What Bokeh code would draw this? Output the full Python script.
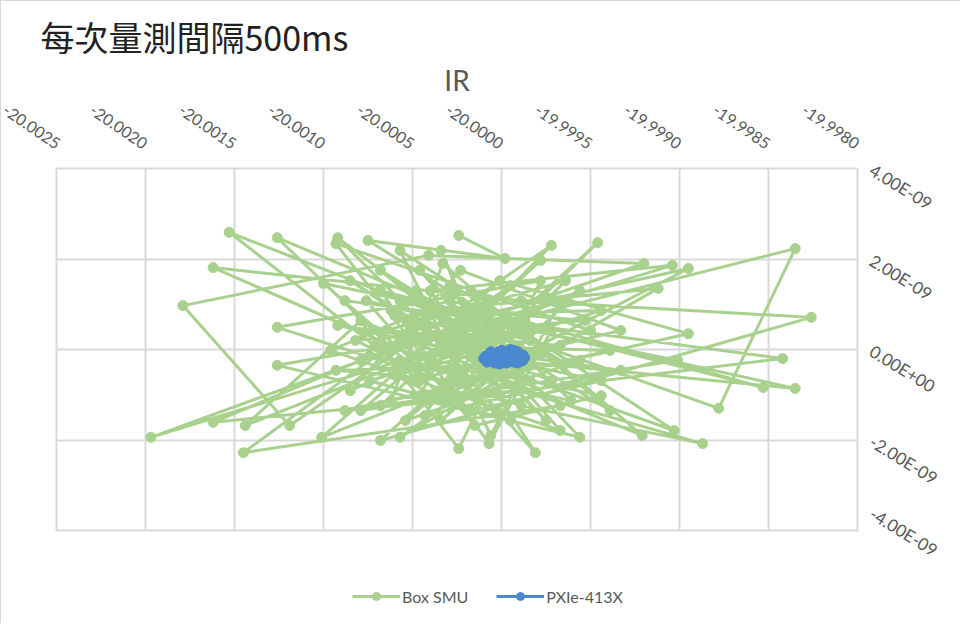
import numpy as np
from bokeh.plotting import figure
from bokeh.layouts import column
from bokeh.models import (Range1d, FixedTicker, CustomJSTickFormatter, Legend,
                          LegendItem, Title)
from bokeh.embed import file_html
from bokeh.resources import INLINE

# ---------------- data ----------------
x_tick_values = [-20.0025, -20.0020, -20.0015, -20.0010, -20.0005,
                 -20.0000, -19.9995, -19.9990, -19.9985, -19.9980]
x_tick_labels = ["-20.0025", "-20.0020", "-20.0015", "-20.0010", "-20.0005",
                 "-20.0000", "-19.9995", "-19.9990", "-19.9985", "-19.9980"]
y_tick_values = [4e-9, 2e-9, 0.0, -2e-9, -4e-9]
y_tick_labels = ["4.00E-09", "2.00E-09", "0.00E+00", "-2.00E-09", "-4.00E-09"]

series_names = ["Box SMU", "PXIe-413X"]
chart_title = "IR"
page_title = "每次量測間隔500ms"

# Box SMU: voltage (V) and current (in units of 1e-9 A)
box_smu_v = [
    -20.00024, -19.99998, -20.00075, -19.99964, -20.00153, -20.00046, -19.99972, -20.00119, -20.00179, -20.00041,
    -19.99920, -20.00062, -19.99835, -19.99878, -20.00017, -20.00197, -20.00001, -20.00126, -20.00034, -19.99946,
    -20.00068, -19.99826, -19.99989, -20.00162, -20.00017, -19.99895, -20.00051, -20.00145, -19.99967, -20.00092,
    -20.00026, -19.99835, -20.00057, -19.99981, -20.00040, -19.99904, -20.00079, -20.00162, -20.00012, -19.99842,
    -20.00088, -20.00024, -19.99978, -20.00126, -19.99989, -19.99887, -20.00040, -20.00093, -19.99950, -20.00101,
    -20.00001, -19.99895, -20.00062, -20.00033, -19.99921, -20.00079, -20.00144, -19.99967, -20.00006, -20.00057,
    -19.99903, -20.00046, -20.00126, -19.99956, -20.00029, -19.99853, -20.00068, -20.00007, -19.99972, -20.00100,
    -20.00017, -19.99944, -20.00092, -19.99989, -20.00057, -19.99912, -20.00040, -19.99901, -20.00079, -19.99978,
    -20.00051, -19.99933, -20.00023, -20.00085, -19.99956, -20.00034, -20.00001, -20.00068, -19.99939, -20.00017,
    -20.00096, -19.99967, -20.00046, -19.99984, -20.00057, -20.00012, -20.00034, -19.99995, -20.00074, -19.99944,
    -20.00060, -20.00017, -20.00085, -19.99992, -20.00040, -19.99967, -20.00065, -20.00006, -20.00034, -19.99939,
    -20.00088, -20.00001, -20.00048, -19.99975, -20.00023, -20.00071, -19.99987, -20.00054, -19.99956, -20.00026,
    -20.00093, -20.00009, -20.00043, -19.99964, -20.00031, -20.00060, -19.99984, -20.00076, -20.00015, -19.99944,
    -20.00051, -19.99995, -20.00068, -19.99972, -20.00037, -20.00003, -20.00082, -19.99953, -20.00020, -20.00046,
    -19.99978, -20.00062, -19.99998, -20.00029, -19.99961, -20.00074, -20.00012, -20.00043, -19.99933, -20.00057,
]
box_smu_i_n = [
    2.52, 2.01, 2.41, -0.31, 2.59, -0.69, 2.30, -1.68, 0.97, 2.08,
    1.90, -0.02, 2.23, -1.30, 0.64, -1.94, 0.42, 2.47, -1.02, 2.36,
    -2.01, 0.71, 1.08, 1.81, -0.69, 1.79, 0.42, -2.28, -1.24, 2.47,
    -0.13, -0.86, 1.08, -2.28, 1.30, 1.86, -0.24, -1.61, -1.02, -0.20,
    1.08, -2.19, 1.52, 0.49, -1.24, -2.08, -0.35, 2.34, 0.42, -1.94,
    1.52, 0.35, -1.13, 1.90, -1.90, 0.64, -1.68, 1.08, -1.90, 2.19,
    -1.79, 0.20, -0.35, -1.94, 1.08, -0.84, 1.30, -2.08, 0.42, 1.46,
    -1.35, -0.69, 0.53, -0.02, -1.94, 1.35, 0.86, -0.24, -1.35, 1.97,
    -0.69, 0.42, 1.75, -0.91, 1.30, -1.57, -0.46, 1.75, -1.35, 1.30,
    -0.02, -1.79, 1.75, -0.69, -0.24, 0.20, 2.19, -1.57, -0.69, 0.86,
    0.75, -0.13, 1.52, -0.91, -1.13, 0.09, 0.42, 1.08, 0.09, -0.02,
    -1.35, -1.02, 1.30, -1.57, 0.42, 0.09, 0.64, -1.57, -0.24, -0.69,
    -0.46, -0.35, 0.64, 1.52, -1.13, -0.57, 0.20, 1.08, -1.68, -1.02,
    -0.13, 1.41, -1.24, -0.69, 0.31, -1.35, 0.20, 0.64, 0.86, -1.02,
    -0.13, 0.86, -0.57, 1.41, -1.13, -0.13, 0.64, -1.46, -0.46, 0.20,
]

# PXIe-413X: voltage (V) and current (in units of 1e-9 A)
pxie_v = [
    -20.00009, -20.00006, -20.00003, -20.00000, -19.99997, -19.99994, -19.99991, -19.99988, -20.00008, -20.00004,
    -20.00001, -19.99998, -19.99995, -19.99992, -19.99989, -20.00007, -20.00002, -19.99999, -19.99996, -19.99993,
    -19.99990, -20.00005, -20.00000, -19.99997, -19.99993, -20.00009, -19.99988, -20.00003, -19.99996, -19.99991,
    -20.00010, -20.00005, -20.00001, -19.99998, -19.99994, -19.99990, -19.99987, -20.00007, -20.00002, -19.99995,
    -19.99992, -20.00004, -19.99999, -19.99989, -20.00006, -19.99997, -19.99993, -20.00003, -19.99991, -20.00000,
]
pxie_i_n = [
    -0.15, -0.05, -0.25, -0.02, -0.30, -0.10, -0.22, -0.12, -0.28, -0.18,
    -0.08, -0.26, 0.00, -0.20, -0.18, -0.10, -0.30, -0.14, -0.06, -0.28,
    -0.10, -0.22, -0.12, -0.04, -0.16, -0.22, -0.24, -0.12, -0.20, -0.05,
    -0.20, -0.14, -0.32, -0.08, -0.24, -0.16, -0.18, -0.22, -0.06, -0.16,
    -0.08, -0.30, -0.20, -0.26, -0.12, -0.14, -0.02, -0.18, -0.30, -0.26,
]

box_smu_i = np.array(box_smu_i_n) * 1e-9
pxie_i = np.array(pxie_i_n) * 1e-9

# ---------------- styles ----------------
GREEN = "#A9D18E"
BLUE = "#4A88CF"
GRID = "#D9D9D9"
TXT = "#595959"
FONT = "Lato"

# ---------------- main chart ----------------
p = figure(width=960, height=560, output_backend="svg", toolbar_location=None,
           x_range=Range1d(x_tick_values[0], x_tick_values[-1]),
           y_range=Range1d(y_tick_values[-1], y_tick_values[0]),
           x_axis_location="above", y_axis_location="right",
           min_border_left=55, min_border_right=104,
           min_border_top=167, min_border_bottom=31)
p.styles = {"border-top": "1px solid #D9D9D9", "border-left": "1px solid #D9D9D9"}
p.outline_line_color = GRID
p.outline_line_width = 2
p.background_fill_color = "white"
p.border_fill_color = "white"

# titles (outermost: page title, then chart title)
p.title.text = page_title
p.title.align = "left"
p.title.offset = -16
p.title.text_font = "Noto Sans CJK TC"
p.title.text_font_size = "34px"
p.title.text_font_style = "normal"
p.title.text_color = "#222222"
p.title.standoff = 0
p.add_layout(Title(text=chart_title, align="center", offset=26,
                   text_font=FONT, text_font_size="28px", text_font_style="normal",
                   text_color=TXT, standoff=0), "above")

xt = FixedTicker(ticks=x_tick_values)
yt = FixedTicker(ticks=y_tick_values)
fmt_code = """
let best = 0, bd = Infinity;
for (let i = 0; i < tvals.length; i++) {
  const d = Math.abs(tvals[i] - tick);
  if (d < bd) { bd = d; best = i; }
}
return tlabels[best];
"""
xa = p.xaxis[0]
xa.ticker = xt
xa.formatter = CustomJSTickFormatter(args=dict(tvals=x_tick_values, tlabels=x_tick_labels), code=fmt_code)
ya = p.yaxis[0]
ya.ticker = yt
ya.formatter = CustomJSTickFormatter(args=dict(tvals=y_tick_values, tlabels=y_tick_labels), code=fmt_code)
for ax in (xa, ya):
    ax.axis_line_color = None
    ax.major_tick_line_color = None
    ax.minor_tick_line_color = None
    ax.major_tick_out = 0
    ax.major_label_text_font = FONT
    ax.major_label_text_color = TXT
xa.major_label_text_font_size = "16px"
xa.major_label_orientation = -0.6
xa.major_label_standoff = 23
ya.major_label_text_font_size = "17px"
ya.major_label_orientation = -0.55
ya.major_label_standoff = 14

p.xgrid.ticker = xt
p.ygrid.ticker = yt
p.xgrid.grid_line_color = GRID
p.ygrid.grid_line_color = GRID
p.xgrid.grid_line_width = 2
p.ygrid.grid_line_width = 2

gl = p.line(box_smu_v, box_smu_i, line_color=GREEN, line_width=3)
gs = p.scatter(box_smu_v, box_smu_i, size=10, fill_color=GREEN, line_color=GREEN)
bl = p.line(pxie_v, pxie_i, line_color=BLUE, line_width=3)
bs = p.scatter(pxie_v, pxie_i, size=10, fill_color=BLUE, line_color=BLUE)

# ---------------- legend strip ----------------
# Same series re-plotted off-range (nothing visible) so that the legend has renderers.
q = figure(width=960, height=63, output_backend="svg", toolbar_location=None,
           x_range=Range1d(0, 1), y_range=Range1d(0, 1),
           x_axis_location=None, y_axis_location=None,
           min_border_left=0, min_border_right=0, min_border_top=0, min_border_bottom=0)
q.styles = {"border-left": "1px solid #D9D9D9"}
q.outline_line_color = None
q.xgrid.visible = False
q.ygrid.visible = False
q.border_fill_color = "white"
q.background_fill_color = "white"
lg_gl = q.line(box_smu_v, box_smu_i, line_color=GREEN, line_width=3)
lg_gs = q.scatter(box_smu_v, box_smu_i, size=10, fill_color=GREEN, line_color=GREEN)
lg_bl = q.line(pxie_v, pxie_i, line_color=BLUE, line_width=3)
lg_bs = q.scatter(pxie_v, pxie_i, size=10, fill_color=BLUE, line_color=BLUE)
legend = Legend(items=[LegendItem(label=series_names[0], renderers=[lg_gl, lg_gs]),
                       LegendItem(label=series_names[1], renderers=[lg_bl, lg_bs])],
                orientation="horizontal", location=(296, 17),
                glyph_width=48, glyph_height=20, label_standoff=2, spacing=28,
                padding=0, margin=0, border_line_color=None,
                background_fill_alpha=0,
                label_text_font=FONT, label_text_font_size="16px",
                label_text_color=TXT)
q.add_layout(legend, "center")

layout = column(p, q, spacing=0)
open("out.html", "w").write(file_html(layout, INLINE))
